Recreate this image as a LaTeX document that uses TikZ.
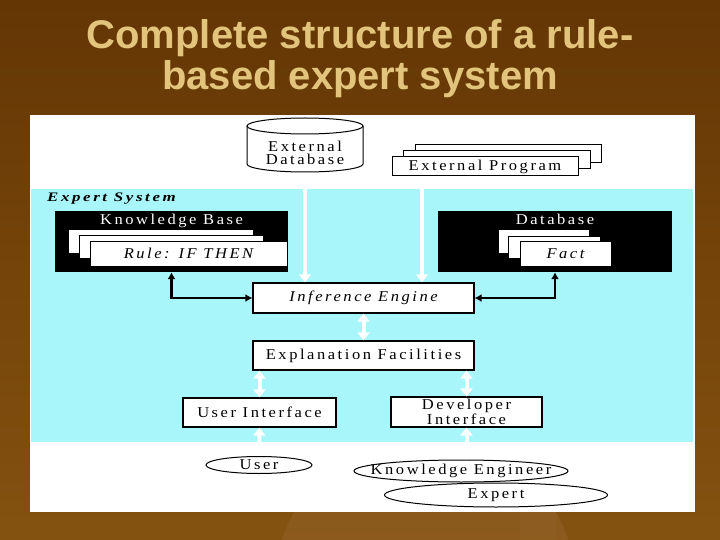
\documentclass[tikz,border=0pt]{standalone}
\usepackage{fontspec}
\setmainfont{Liberation Serif}
\newfontfamily\diagfont{Liberation Serif}[LetterSpace=17,FakeStretch=1.1]
\newfontfamily\sysfont{Liberation Serif}[LetterSpace=20,FakeStretch=1.3]
\newfontfamily\titlefont{Liberation Sans}
\usetikzlibrary{arrows.meta,positioning,shapes.geometric}
\definecolor{bgtop}{RGB}{100,54,4}
\definecolor{bgbot}{RGB}{132,82,16}
\definecolor{decor}{RGB}{146,98,40}
\definecolor{titletan}{RGB}{226,196,124}
\definecolor{sysfill}{RGB}{168,246,250}

\begin{document}
\begin{tikzpicture}[x=1pt, y=-1pt,
  box/.style={draw=black, line width=1.2pt, fill=white, inner sep=0pt, align=center, font=\fontsize{15}{13.5}\diagfont},
  card/.style={box, line width=1pt},
  blackbox/.style={fill=black, inner sep=0pt},
  inv/.style={text=white, inner sep=0pt, font=\fontsize{15}{13.5}\diagfont},
  actor/.style={ellipse, draw=black, line width=1pt, fill=white, inner sep=0pt},
  lab/.style={inner sep=0pt, align=center, font=\fontsize{15}{13.5}\diagfont},
  flow/.style={{Triangle[length=8pt,width=12pt]}-{Triangle[length=8pt,width=12pt]}, white, line width=4pt},
  feed/.style={-{Triangle[length=8pt,width=12pt]}, white, line width=4pt},
  bus/.style={{Latex[length=7pt,width=8pt]}-{Latex[length=7pt,width=8pt]}, black, line width=2.8pt},
  titletext/.style={inner sep=0pt, align=center, text=titletan, font=\fontsize{40}{41}\titlefont\bfseries}]
% slide background
\useasboundingbox (0,0) rectangle (720,540);
\clip (0,0) rectangle (720,540);
\shade[top color=bgtop, bottom color=bgbot] (0,0) rectangle (720,540);
\fill[decor, opacity=0.5] (425,585) circle (150);
\fill[decor, opacity=0.4] (520,455) rectangle (556,540);
\node[titletext, anchor=north] (title) at (360,19) {Complete structure of a rule-\\based expert system};
% panel and expert system area
\fill[white] (30,115) rectangle (695,512);
\fill[sysfill] (31,189) rectangle (693,442);
\node[anchor=west, inner sep=0pt, font=\fontsize{13}{12}\sysfont\bfseries\itshape] (systitle) at (47,199) {Expert System};
% external database (cylinder)
\draw[line width=1pt, fill=white] (247,126) -- (247,164) arc[start angle=180, end angle=360, x radius=58pt, y radius=8pt] -- (363,126);
\draw[line width=1pt, fill=white] (305,126) ellipse [x radius=58pt, y radius=8pt];
\node[lab] (extdb) at (305,153) {External\\Database};
\coordinate (extdbbase) at (305,176);
% external program
\node[card, minimum width=186, minimum height=18] (epcard1) at (508,154) {};
\node[card, minimum width=187, minimum height=18] (epcard2) at (496.5,160) {};
\node[card, minimum width=186, minimum height=19] (extprog) at (485,166.5) {External Program};
% knowledge base
\node[blackbox, minimum width=233, minimum height=61] (kb) at (171.5,241.5) {};
\node[inv, anchor=north] (kbtitle) at ([yshift=-3pt]kb.north) {Knowledge Base};
\node[card, minimum width=185, minimum height=23] (kbcard1) at (160.5,241.5) {};
\node[card, minimum width=184, minimum height=23] (kbcard2) at (171,246.5) {};
\node[card, minimum width=197, minimum height=25, font=\fontsize{15}{13.5}\diagfont\itshape] (kbrule) at (188.5,253.5) {Rule: IF THEN};
% database
\node[blackbox, minimum width=234, minimum height=61] (db) at (555,241.5) {};
\node[inv, anchor=north] (dbtitle) at ([yshift=-3pt]db.north) {Database};
\node[card, minimum width=91, minimum height=23] (dbcard1) at (543.5,241.5) {};
\node[card, minimum width=92, minimum height=22] (dbcard2) at (554,247) {};
\node[card, minimum width=91, minimum height=25, font=\fontsize{15}{13.5}\diagfont\itshape] (dbfact) at (565.5,253.5) {Fact};
% engine and interfaces
\node[box, minimum width=221, minimum height=30, font=\fontsize{15}{13.5}\diagfont\itshape] (infer) at (363.5,298) {Inference Engine};
\node[box, minimum width=221, minimum height=29] (expl) at (363.5,355.5) {Explanation Facilities};
\node[box, minimum width=153, minimum height=29] (userif) at (259.5,412.5) {User Interface};
\node[box, minimum width=151, minimum height=30] (devif) at (466.5,412) {Developer\\Interface};
% people
\node[actor, minimum width=106, minimum height=17, label={[lab]center:User}] (user) at (259,465) {};
\node[actor, minimum width=223, minimum height=24, label={[lab]center:Expert}] (expert) at (496,495) {};
\node[actor, minimum width=214, minimum height=22, label={[lab]center:Knowledge Engineer}] (kengineer) at (461,471) {};
% connectors
\draw[feed] (extdbbase) -- (extdbbase |- infer.north);
\draw[feed] ([xshift=-63pt]extprog.south) -- ([xshift=-63pt]extprog.south |- infer.north);
\draw[bus] (kb.south) |- (infer.west);
\draw[bus] (db.south) |- (infer.east);
\draw[flow] (infer.south) -- (expl.north);
\draw[flow] (userif.north |- expl.south) -- (userif.north);
\draw[flow] (devif.north |- expl.south) -- (devif.north);
\draw[flow] (userif.south) -- (user.north);
\draw[flow] (devif.south) -- (devif.south |- kengineer.north);
\end{tikzpicture}
\end{document}
